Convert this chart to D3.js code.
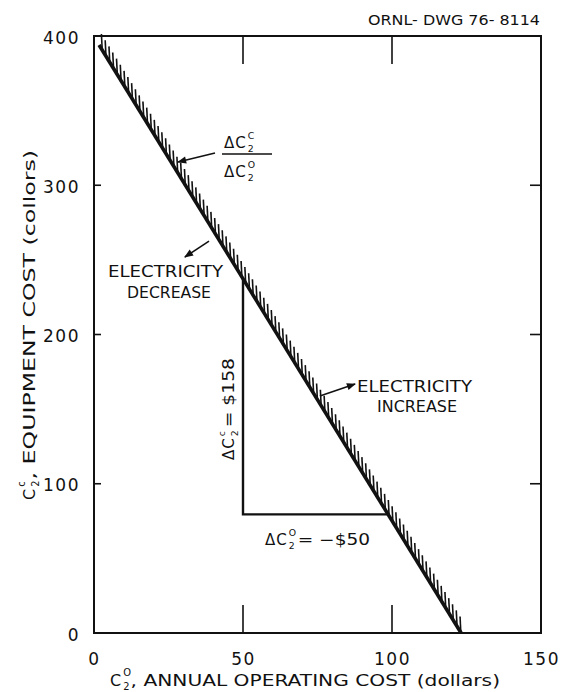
<!DOCTYPE html>
<html>
<head>
<meta charset="utf-8">
<script src="https://cdn.jsdelivr.net/npm/d3@7"></script>
<style>
body { margin: 0; background: #fff; }
text { font-family: "DejaVu Sans", sans-serif; fill: #111; }
</style>
</head>
<body>
<script>
// ===== data =====
var xTicks = [0, 50, 100, 150];
var yTicks = [0, 100, 200, 300, 400];
var xInnerTicks = [50, 100];
var yInnerTicks = [100, 200, 300];

// the break-even line (operating cost, equipment cost)
var lineX = [1.7, 123.2];
var lineY = [394, 0];

// the worked triangle
var triX = [50, 50, 98.7];
var triY = [237.5, 79.5, 79.5];

// annotation arrows, in data units
var arrowFromX = [40.6, 38.6, 75.8];
var arrowFromY = [321.6, 262.6, 158.8];
var arrowToX = [28.2, 30.5, 87.6];
var arrowToY = [315.6, 251.9, 166.8];

var width = 561;
var height = 692;

var svg = d3.select("body")
  .append("svg")
    .attr("width", width)
    .attr("height", height);

var x = d3.scaleLinear().domain([0, 150]).range([94, 541]);
var y = d3.scaleLinear().domain([0, 400]).range([633, 36]);

svg.append("defs").append("marker")
    .attr("id", "head")
    .attr("viewBox", "0 0 10 10")
    .attr("refX", 9).attr("refY", 5)
    .attr("markerWidth", 10).attr("markerHeight", 9)
    .attr("markerUnits", "userSpaceOnUse")
    .attr("orient", "auto")
  .append("path")
    .attr("d", "M0,1 L10,5 L0,9 Z")
    .style("fill", "#111");

// ======= frame and ticks ========

svg.append("rect")
    .attr("x", x(0)).attr("y", y(400))
    .attr("width", x(150) - x(0)).attr("height", y(0) - y(400))
    .style("fill", "none").style("stroke", "#111").style("stroke-width", 2);

var ticks = svg.append("g").style("stroke", "#111").style("stroke-width", 1.6);

ticks.selectAll(".tb").data(xInnerTicks).enter().append("line")
    .attr("x1", function(d){ return x(d); }).attr("x2", function(d){ return x(d); })
    .attr("y1", y(0)).attr("y2", y(0) - 28);
ticks.selectAll(".tt").data(xInnerTicks).enter().append("line")
    .attr("x1", function(d){ return x(d); }).attr("x2", function(d){ return x(d); })
    .attr("y1", y(400)).attr("y2", y(400) + 28);
ticks.selectAll(".tl").data(yInnerTicks).enter().append("line")
    .attr("x1", x(0)).attr("x2", x(0) + 7)
    .attr("y1", function(d){ return y(d); }).attr("y2", function(d){ return y(d); });
ticks.selectAll(".tr").data(yInnerTicks).enter().append("line")
    .attr("x1", x(150)).attr("x2", x(150) - 11)
    .attr("y1", function(d){ return y(d); }).attr("y2", function(d){ return y(d); });

// tick labels through d3 axes
var xAxis = svg.append("g")
    .attr("transform", "translate(0," + y(0) + ")")
    .call(d3.axisBottom(x).tickValues(xTicks).tickSize(0).tickPadding(20).tickFormat(d3.format("d")));
var yAxis = svg.append("g")
    .attr("transform", "translate(" + x(0) + ",0)")
    .call(d3.axisLeft(y).tickValues(yTicks).tickSize(0).tickPadding(14).tickFormat(d3.format("d")));

[xAxis, yAxis].forEach(function(a){
    a.select(".domain").remove();
    a.selectAll("text")
        .style("font-family", "'DejaVu Sans', sans-serif")
        .style("font-size", "17px")
        .style("letter-spacing", "1.5px")
        .style("fill", "#111");
});
yAxis.selectAll("text").attr("dy", "0.42em");

// ======= the line with hatching ========

var px0 = x(lineX[0]), py0 = y(lineY[0]), px1 = x(lineX[1]), py1 = y(lineY[1]);
var len = Math.hypot(px1 - px0, py1 - py0);
var ux = (px1 - px0) / len, uy = (py1 - py0) / len;
var hx = -0.05, hy = -0.999; // hatch direction, nearly straight up
var hatchPts = d3.range(6, len + 3, 7.2);

svg.append("g").selectAll("line").data(hatchPts).enter().append("line")
    .attr("x1", function(d){ return px0 + ux * d; })
    .attr("y1", function(d){ return py0 + uy * d; })
    .attr("x2", function(d){ return px0 + ux * d + hx * 16; })
    .attr("y2", function(d){ return py0 + uy * d + hy * 16; })
    .style("stroke", "#111").style("stroke-width", 1.6);

svg.append("line")
    .attr("x1", px0).attr("y1", py0)
    .attr("x2", px1).attr("y2", py1)
    .style("stroke", "#111").style("stroke-width", 3.6);

// ======= triangle ========

svg.append("path")
    .attr("d", d3.line().x(function(d){ return x(d[0]); }).y(function(d){ return y(d[1]); })(d3.zip(triX, triY)))
    .style("fill", "none").style("stroke", "#111").style("stroke-width", 2.4);

// ======= arrows ========

svg.append("g").selectAll("line").data(d3.range(arrowFromX.length)).enter().append("line")
    .attr("x1", function(i){ return x(arrowFromX[i]); })
    .attr("y1", function(i){ return y(arrowFromY[i]); })
    .attr("x2", function(i){ return x(arrowToX[i]); })
    .attr("y2", function(i){ return y(arrowToY[i]); })
    .attr("marker-end", "url(#head)")
    .style("stroke", "#111").style("stroke-width", 1.6);

// ======= texts ========

function cSym(g, x0, y0, base, sup, sub, size){
    var t = g.append("text").attr("x", x0).attr("y", y0)
        .style("font-size", size + "px").style("letter-spacing", "1px").text(base);
    var w = t.node().getComputedTextLength() + 1;
    var s = size * 0.62;
    g.append("text").attr("x", x0 + w).attr("y", y0 - size * 0.6).style("font-size", s + "px").text(sup);
    g.append("text").attr("x", x0 + w).attr("y", y0 + size * 0.28).style("font-size", s + "px").text(sub);
    return x0 + w + s * 0.75;
}

function label(g, x0, y0, str, size, len){
    var t = g.append("text").attr("x", x0).attr("y", y0)
        .style("font-size", size + "px").text(str);
    if (len) t.attr("textLength", len).attr("lengthAdjust", "spacingAndGlyphs");
    return t;
}

label(svg, 368, 25, "ORNL- DWG 76- 8114", 14, 172);

// x title
var xt = svg.append("g");
var e = cSym(xt, 110, 686, "C", "O", "2", 16);
label(xt, e, 686, ", ANNUAL OPERATING  COST (dollars)", 16, 500 - e);

// y title
var yt = svg.append("g").attr("transform", "translate(35,500) rotate(-90)");
e = cSym(yt, 0, 0, "C", "c", "2", 16);
label(yt, e, 0, ", EQUIPMENT COST (collors)", 16, 350 - e);

// slope fraction
var fr = svg.append("g");
cSym(fr, 224, 148, "ΔC", "C", "2", 15);
fr.append("line").attr("x1", 222).attr("x2", 272).attr("y1", 154).attr("y2", 154)
    .style("stroke", "#111").style("stroke-width", 1.6);
cSym(fr, 224, 177, "ΔC", "O", "2", 15);

// triangle legs
var vg = svg.append("g").attr("transform", "translate(234,460) rotate(-90)");
e = cSym(vg, 0, 0, "ΔC", "c", "2", 15);
label(vg, e + 2, 0, "= $158", 15, 102 - e - 2);

var hg = svg.append("g");
e = cSym(hg, 265, 545, "ΔC", "O", "2", 15);
label(hg, e + 2, 545, "= −$50", 15, 370 - e - 2);

// electricity notes
label(svg, 108, 277, "ELECTRICITY", 16, 115);
label(svg, 127, 298, "DECREASE", 16, 84);
label(svg, 357, 392, "ELECTRICITY", 16, 115);
label(svg, 377, 412, "INCREASE", 16, 80);
</script>
</body>
</html>
